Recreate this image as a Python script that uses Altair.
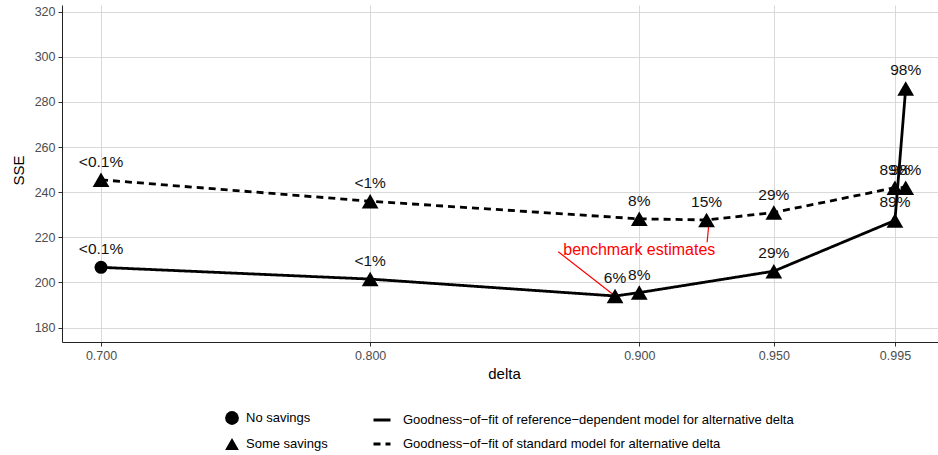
import altair as alt
import pandas as pd

# Reference-dependent model: SSE by delta
delta_ref = [0.700, 0.800, 0.891, 0.900, 0.950, 0.995, 0.999]
sse_ref = [206.7, 201.5, 194.0, 195.5, 205.0, 227.5, 286.0]
label_ref = ["<0.1%", "<1%", "6%", "8%", "29%", "89%", "98%"]
savings_ref = ["No savings"] + ["Some savings"] * 6

# Standard model: SSE by delta
delta_std = [0.700, 0.800, 0.900, 0.925, 0.950, 0.995, 0.999]
sse_std = [245.5, 236.0, 228.2, 227.7, 231.0, 242.0, 242.0]
label_std = ["<0.1%", "<1%", "8%", "15%", "29%", "89%", "98%"]
savings_std = ["Some savings"] * 7

model_ref = "Goodness\u2212of\u2212fit of reference\u2212dependent model for alternative delta"
model_std = "Goodness\u2212of\u2212fit of standard model for alternative delta"

x_ticks = [0.700, 0.800, 0.900, 0.950, 0.995]
y_ticks = [180, 200, 220, 240, 260, 280, 300, 320]

# Annotation pointing at the benchmark estimates
note_text = "benchmark estimates"
note_x, note_y = 0.900, 214.5
seg_x = [0.8699, 0.9252]
seg_y = [213.6, 217.8]
seg_x2 = [0.891, 0.926]
seg_y2 = [194.0, 227.7]

FONT = "Liberation Sans, Arial, Helvetica, sans-serif"

df = pd.concat([
    pd.DataFrame({"delta": delta_ref, "sse": sse_ref, "label": label_ref,
                  "savings": savings_ref, "model": model_ref}),
    pd.DataFrame({"delta": delta_std, "sse": sse_std, "label": label_std,
                  "savings": savings_std, "model": model_std}),
], ignore_index=True)
df["order"] = df.groupby("model").cumcount()

segs = pd.DataFrame({"x": seg_x, "y": seg_y, "x2": seg_x2, "y2": seg_y2})
note = pd.DataFrame({"x": [note_x], "y": [note_y], "t": [note_text]})

x_scale = alt.Scale(domain=[0.6855, 1.011], nice=False, zero=False)
y_scale = alt.Scale(domain=[173.6, 323.0], nice=False, zero=False)

x_enc = alt.X("delta:Q", scale=x_scale,
              axis=alt.Axis(values=x_ticks, format=".3f", title="delta",
                            titleX=442, titleY=36, titleBaseline="alphabetic",
                            titleAlign="center"))
y_enc = alt.Y("sse:Q", scale=y_scale,
              axis=alt.Axis(values=y_ticks, title="SSE", titleAngle=270,
                            titleX=-39, titleY=165, titleAlign="center",
                            titleBaseline="alphabetic"))

base = alt.Chart(df)

lines = base.mark_line(color="black", strokeWidth=2.8).encode(
    x=x_enc, y=y_enc,
    order="order:Q",
    strokeDash=alt.StrokeDash(
        "model:N",
        scale=alt.Scale(domain=[model_ref, model_std], range=[[1, 0], [7, 5]]),
        legend=alt.Legend(title=None, orient="none", legendX=310, legendY=405,
                          symbolType="stroke", symbolSize=289,
                          symbolStrokeWidth=2.8, symbolStrokeColor="black",
                          rowPadding=7, labelOffset=11, padding=0,
                          labelLimit=0),
    ),
)

rules = alt.Chart(segs).mark_rule(color="#ff0000", strokeWidth=1.2).encode(
    x="x:Q", y="y:Q", x2="x2:Q", y2="y2:Q")

shape_enc = alt.Shape(
    "savings:N",
    scale=alt.Scale(domain=["No savings", "Some savings"],
                    range=["circle", "triangle-up"]),
    legend=alt.Legend(title=None, orient="none", legendX=162, legendY=405,
                      symbolSize=190, symbolFillColor="black",
                      symbolStrokeColor="black", rowPadding=7,
                      labelOffset=6, padding=0, labelLimit=0),
)

# Circles and triangles drawn at their own sizes
circles = base.transform_filter(alt.datum.savings == "No savings").mark_point(
    filled=True, color="black", opacity=1, size=169).encode(
    x="delta:Q", y="sse:Q", shape=shape_enc)
triangles = base.transform_filter(alt.datum.savings == "Some savings").mark_point(
    filled=True, color="black", opacity=1, size=280).encode(
    x="delta:Q", y="sse:Q", shape=shape_enc)

labels = base.mark_text(fontSize=15.5, font=FONT, color="#111111", dy=-18,
                        baseline="middle").encode(
    x="delta:Q", y="sse:Q", text="label:N")

note_mark = alt.Chart(note).mark_text(fontSize=16, font=FONT, color="#ff0000",
                                      baseline="middle").encode(
    x="x:Q", y="y:Q", text="t:N")

chart = alt.layer(lines, rules, circles, triangles, labels, note_mark).properties(
    width=876, height=337,
    padding={"left": 62, "top": 5, "right": 0, "bottom": 113},
    autosize="none",
    background="white",
).configure_view(stroke=None).configure_axis(
    grid=True, gridColor="#d9d9d9", gridWidth=1,
    domainColor="#222222", domainWidth=1,
    tickColor="#333333", tickSize=4, tickWidth=1,
    labelFont=FONT, labelFontSize=12.5, labelColor="#4d4d4d",
    labelPadding=3,
    titleFont=FONT, titleFontSize=15, titleFontWeight="normal",
    titleColor="black",
).configure_legend(
    labelFont=FONT, labelFontSize=13, labelColor="black",
)

chart.save("out.html", embed_options={"renderer": "svg", "actions": False})
